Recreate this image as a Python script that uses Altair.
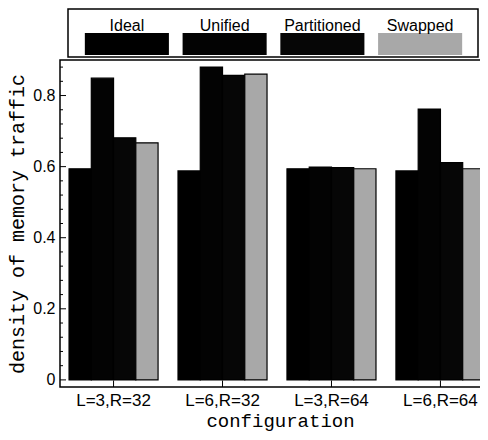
import altair as alt
import pandas as pd

configs = ["L=3,R=32", "L=6,R=32", "L=3,R=64", "L=6,R=64"]
series = ["Ideal", "Unified", "Partitioned", "Swapped"]
ideal = [0.594, 0.588, 0.594, 0.588]
unified = [0.849, 0.880, 0.599, 0.762]
partitioned = [0.681, 0.857, 0.597, 0.611]
swapped = [0.667, 0.860, 0.594, 0.594]
y_major = [0, 0.2, 0.4, 0.6, 0.8]
y_minor = [0.04, 0.08, 0.12, 0.16, 0.24, 0.28, 0.32, 0.36, 0.44, 0.48,
           0.52, 0.56, 0.64, 0.68, 0.72, 0.76, 0.84, 0.88]

values = {"Ideal": ideal, "Unified": unified, "Partitioned": partitioned, "Swapped": swapped}
df = pd.DataFrame([
    {"config": c, "series": s, "density": values[s][i]}
    for s in series for i, c in enumerate(configs)
])
leg = pd.DataFrame({"series": series})
major = pd.DataFrame({"v": y_major})
minor = pd.DataFrame({"v": y_minor})
cfg = pd.DataFrame({"config": configs})
one = pd.DataFrame({"k": [0]})

colors = ["#000000", "#030303", "#060606", "#a8a8a8"]
color_scale = alt.Scale(domain=series, range=colors)
yscale = alt.Scale(domain=[-0.02, 0.9], nice=False, zero=False)


def xscale():
    return alt.Scale(domain=configs, range=[0, 434], paddingInner=0.183, paddingOuter=0.083)


def legscale():
    return alt.Scale(domain=series, range=[18, 409], paddingInner=0.14, paddingOuter=0.07)


bars = alt.Chart(df).mark_bar(stroke="black", strokeWidth=1.2).encode(
    x=alt.X("config:N", sort=configs, scale=xscale(),
            axis=alt.Axis(title="configuration", labelAngle=0, domain=False, ticks=False,
                          labelFont="Liberation Sans", labelFontSize=17, labelColor="black",
                          labelPadding=5, titleFont="Liberation Mono", titleFontSize=19,
                          titleFontWeight="normal", titleColor="black",
                          titleBaseline="alphabetic", titleY=39, titleX=220)),
    xOffset=alt.XOffset("series:N", sort=series, scale=alt.Scale(paddingInner=0, paddingOuter=0)),
    y=alt.Y("density:Q", scale=yscale,
            axis=alt.Axis(title="density of memory traffic", values=y_major, format="~g",
                          domain=False, ticks=False, grid=False,
                          labelFont="Liberation Sans", labelFontSize=16, labelColor="black",
                          labelPadding=5, titleFont="Liberation Mono", titleFontSize=20,
                          titleFontWeight="normal", titleColor="black", titlePadding=5)),
    y2=alt.datum(0),
    color=alt.Color("series:N", scale=color_scale, legend=None),
)

major_ticks = alt.Chart(major).mark_rule(color="black", strokeWidth=1).encode(
    y=alt.Y("v:Q", scale=yscale), x=alt.value(0), x2=alt.value(6))
minor_ticks = alt.Chart(minor).mark_rule(color="black", strokeWidth=1).encode(
    y=alt.Y("v:Q", scale=yscale), x=alt.value(0), x2=alt.value(3))
x_ticks = alt.Chart(cfg).mark_rule(color="black", strokeWidth=1).encode(
    x=alt.X("config:N", sort=configs, scale=xscale(), axis=None, bandPosition=0.5),
    y=alt.value(321), y2=alt.value(327))

leg_box = alt.Chart(one).mark_rect(fillOpacity=0, stroke="black", strokeWidth=1.5).encode(
    x=alt.value(8), x2=alt.value(418), y=alt.value(-51), y2=alt.value(-3))
leg_sw = alt.Chart(leg).mark_rect().encode(
    x=alt.X("series:N", sort=series, scale=legscale(), axis=None),
    y=alt.value(-27), y2=alt.value(-5),
    color=alt.Color("series:N", scale=color_scale, legend=None),
)
leg_txt = alt.Chart(leg).mark_text(font="Liberation Sans", fontSize=16, color="black",
                                   baseline="alphabetic").encode(
    x=alt.X("series:N", sort=series, scale=legscale(), axis=None),
    y=alt.value(-29),
    text="series:N",
)

chart = alt.layer(bars, major_ticks, minor_ticks, x_ticks, leg_box, leg_sw, leg_txt).resolve_scale(
    x="independent"
).properties(
    width=428, height=327,
    autosize=alt.AutoSizeParams(type="none"),
    padding={"left": 52, "top": 52, "right": -8, "bottom": 46},
).configure_view(stroke="black", strokeWidth=1.5)

chart.save("out.html", embed_options={"renderer": "svg", "actions": False})
